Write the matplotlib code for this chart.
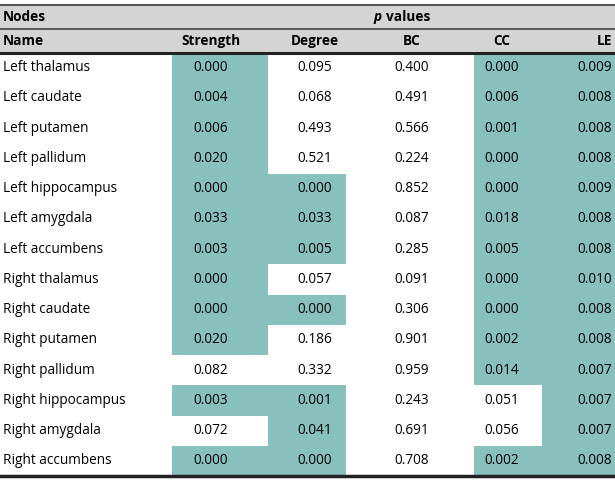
import matplotlib
matplotlib.use("Agg")
import matplotlib.pyplot as plt
from matplotlib.patches import Rectangle

names = ["Left thalamus", "Left caudate", "Left putamen", "Left pallidum",
         "Left hippocampus", "Left amygdala", "Left accumbens",
         "Right thalamus", "Right caudate", "Right putamen", "Right pallidum",
         "Right hippocampus", "Right amygdala", "Right accumbens"]
columns = ["Strength", "Degree", "BC", "CC", "LE"]
strength = [0.000, 0.004, 0.006, 0.020, 0.000, 0.033, 0.003, 0.000, 0.000, 0.020, 0.082, 0.003, 0.072, 0.000]
degree = [0.095, 0.068, 0.493, 0.521, 0.000, 0.033, 0.005, 0.057, 0.000, 0.186, 0.332, 0.001, 0.041, 0.000]
bc = [0.400, 0.491, 0.566, 0.224, 0.852, 0.087, 0.285, 0.091, 0.306, 0.901, 0.959, 0.243, 0.691, 0.708]
cc = [0.000, 0.006, 0.001, 0.000, 0.000, 0.018, 0.005, 0.000, 0.000, 0.002, 0.014, 0.051, 0.056, 0.002]
le = [0.009, 0.008, 0.008, 0.008, 0.009, 0.008, 0.008, 0.010, 0.008, 0.008, 0.007, 0.007, 0.007, 0.008]
values = [strength, degree, bc, cc, le]
threshold = 0.05

W, H = 615, 480
fig = plt.figure(figsize=(W / 100, H / 100), dpi=100)
ax = fig.add_axes([0, 0, 1, 1])
ax.set_xlim(0, W)
ax.set_ylim(H, 0)
ax.axis("off")

plt.rcParams["font.family"] = ["Open Sans", "DejaVu Sans"]
FS = 9.8
teal = "#88C0BE"
grey = "#D4D4D4"
dark = "#222222"

# layout
col_edges = [0, 172, 268, 346, 474, 542, 615]
text_x = [211, 315, 412, 502, 612]
text_ha = ["center", "center", "center", "center", "right"]
top_y, mid_y, head_y, bot_y = 5, 29, 52.5, 476
row_h = (bot_y - head_y) / len(names)

# header background
ax.add_patch(Rectangle((0, top_y), W, head_y - top_y, color=grey, lw=0, zorder=0))

# shaded cells
for j, col in enumerate(values):
    x0, x1 = col_edges[j + 1], col_edges[j + 2]
    for i, v in enumerate(col):
        if v < threshold:
            y0 = head_y + i * row_h
            ax.add_patch(Rectangle((x0, y0), x1 - x0, row_h, color=teal, lw=0, zorder=0))

# lines
ax.plot([0, W], [top_y, top_y], color="#555555", lw=1.5, zorder=2)
ax.plot([0, W], [mid_y, mid_y], color="#444444", lw=1.2, zorder=2)
ax.plot([0, W], [head_y, head_y], color=dark, lw=2.2, zorder=2)
ax.plot([0, W], [bot_y, bot_y], color=dark, lw=2.5, zorder=2)

# header text
hy1 = (top_y + mid_y) / 2
ax.text(3, hy1, "Nodes", fontsize=FS, fontweight="bold", ha="left", va="center")
ax.text(381.5, hy1, "p", fontsize=FS, fontweight="bold", style="italic", ha="right", va="center")
ax.text(385.5, hy1, "values", fontsize=FS, fontweight="bold", ha="left", va="center")
ax.text(3, (mid_y + head_y) / 2, "Name", fontsize=FS, fontweight="bold", ha="left", va="center")
for j, c in enumerate(columns):
    ax.text(text_x[j], (mid_y + head_y) / 2, c, fontsize=FS, fontweight="bold",
            ha=text_ha[j], va="center")

# body
for i, n in enumerate(names):
    yc = head_y + (i + 0.5) * row_h
    ax.text(3, yc, n, fontsize=FS, ha="left", va="center")
    for j, col in enumerate(values):
        ax.text(text_x[j], yc, f"{col[i]:.3f}", fontsize=FS, ha=text_ha[j], va="center")

fig.savefig("out.png", dpi=100)
